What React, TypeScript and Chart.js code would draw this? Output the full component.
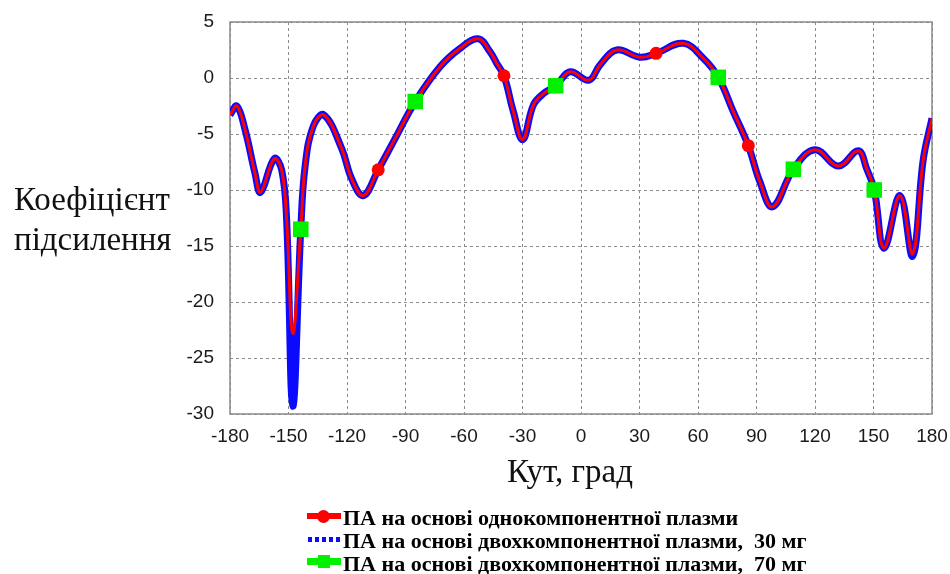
import React, { useEffect, useRef } from "react";
import { Chart, registerables } from "chart.js";

Chart.register(...registerables);

// Angle (degrees) sampled along the pattern
const angles = [
  -180, -176.5, -172.3, -167.2, -164.3, -157.3, -153.5, -151, -147.8, -143.7,
  -141.5, -137.3, -131.8, -122.7, -117.6, -111.6, -104, -95, -85, -72.3,
  -62, -52.7, -46.7, -43.2, -39.5, -34.7, -29.9, -24.4, -19.3, -13,
  -5.6, 4, 9.7, 18.3, 30.3, 38.5, 52.5, 62.7, 70.4, 78.1,
  85.8, 91.8, 98.3, 108.9, 120, 132, 142.2, 146.5, 150.4, 155.4,
  163.6, 170.1, 175.5, 180,
];

// ПА на основі однокомпонентної плазми
const singleComponent = [
  -3.3, -2.5, -4.6, -8.5, -10.2, -7.2, -8.2, -12.5, -22.8, -13.5,
  -7.9, -4.3, -3.3, -6.3, -9.0, -10.5, -8.2, -5.3, -2.1, 1.0,
  2.65, 3.5, 2.35, 1.3, 0.2, -3.0, -5.5, -2.4, -1.4, -0.7,
  0.56, -0.2, 1.16, 2.5, 1.85, 2.2, 3.1, 1.76, 0.06, -3.0,
  -6.04, -9.3, -11.5, -8.15, -6.4, -7.86, -6.5, -8.1, -10, -15.2,
  -10.5, -15.7, -7.3, -3.6,
];

// ПА на основі двохкомпонентної плазми, 30 мг
const twoComponent30 = [
  -3.3, -2.5, -4.6, -8.5, -10.2, -7.2, -8.2, -12.5, -29.3, -13.5,
  -7.9, -4.3, -3.3, -6.3, -9.0, -10.5, -8.2, -5.3, -2.1, 1.0,
  2.65, 3.5, 2.35, 1.3, 0.2, -3.0, -5.5, -2.4, -1.4, -0.7,
  0.56, -0.2, 1.16, 2.5, 1.85, 2.2, 3.1, 1.76, 0.06, -3.0,
  -6.04, -9.3, -11.5, -8.15, -6.4, -7.86, -6.5, -8.1, -10, -15.2,
  -10.5, -15.9, -7.3, -3.6,
];

// Marker positions
const singleMarkerAngles = [-104, -39.5, 38.5, 85.8];
const singleMarkerValues = [-8.2, 0.2, 2.2, -6.04];
const twoComponent70MarkerAngles = [-143.7, -85, -13, 70.4, 108.9, 150.4];
const twoComponent70MarkerValues = [-13.5, -2.1, -0.7, 0.06, -8.15, -10];

const xTicks = [-180, -150, -120, -90, -60, -30, 0, 30, 60, 90, 120, 150, 180];
const yMin = -30;
const yMax = 5;

const legendLabels = [
  "ПА на основі однокомпонентної плазми",
  "ПА на основі двохкомпонентної плазми,  30 мг",
  "ПА на основі двохкомпонентної плазми,  70 мг",
];

const toPts = (xs: number[], ys: number[]) => xs.map((x, i) => ({ x, y: ys[i] }));

const framePlugin = {
  id: "frame",
  beforeDatasetsDraw(chart: any) {
    const { ctx, chartArea } = chart;
    ctx.save();
    ctx.strokeStyle = "#8a8a8a";
    ctx.lineWidth = 1.5;
    ctx.setLineDash([]);
    ctx.strokeRect(chartArea.left, chartArea.top, chartArea.right - chartArea.left, chartArea.bottom - chartArea.top);
    ctx.restore();
  },
};

const zeroPad = (s: any) => {
  s.paddingLeft = 0;
  s.paddingRight = 0;
  s.paddingTop = 0;
  s.paddingBottom = 0;
};

export default function App() {
  const ref = useRef<HTMLCanvasElement | null>(null);

  useEffect(() => {
    if (!ref.current) return;
    const chart = new Chart(ref.current, {
      type: "line",
      data: {
        datasets: [
          {
            label: "70 мг markers",
            data: toPts(twoComponent70MarkerAngles, twoComponent70MarkerValues),
            showLine: false,
            pointStyle: "rect",
            pointRadius: 11,
            pointBackgroundColor: "#00f000",
            pointBorderColor: "#00f000",
            pointBorderWidth: 0,
          },
          {
            label: "single markers",
            data: toPts(singleMarkerAngles, singleMarkerValues),
            showLine: false,
            pointStyle: "circle",
            pointRadius: 6.5,
            pointBackgroundColor: "#ff0000",
            pointBorderColor: "#ff0000",
            pointBorderWidth: 0,
          },
          {
            label: legendLabels[0],
            data: toPts(angles, singleComponent),
            borderColor: "#ff0000",
            borderWidth: 3,
            pointRadius: 0,
            tension: 0.4,
            fill: false,
          },
          {
            label: legendLabels[1],
            data: toPts(angles, twoComponent30),
            borderColor: "#0a0aff",
            borderWidth: 7,
            pointRadius: 0,
            tension: 0.4,
            fill: false,
          },
        ],
      },
      options: {
        animation: false,
        responsive: false,
        devicePixelRatio: 1,
        layout: { padding: { left: 0, right: 18, top: 22, bottom: 0 } },
        plugins: { legend: { display: false }, tooltip: { enabled: false } },
        scales: {
          x: {
            type: "linear",
            min: -180,
            max: 180,
            afterFit: (s: any) => {
              s.height = 160;
              zeroPad(s);
            },
            afterBuildTicks: (s: any) => {
              s.ticks = xTicks.map((v) => ({ value: v }));
            },
            ticks: {
              font: { family: "'Liberation Sans', Arial, sans-serif", size: 19 },
              color: "#1a1a1a",
              padding: 11,
              maxRotation: 0,
            },
            grid: { color: "#8c8c8c", lineWidth: 1, drawTicks: false },
            border: { display: false, dash: [3, 3] },
          },
          y: {
            type: "linear",
            min: yMin,
            max: yMax,
            afterFit: (s: any) => {
              s.width = 230;
              zeroPad(s);
            },
            ticks: {
              stepSize: 5,
              font: { family: "'Liberation Sans', Arial, sans-serif", size: 19 },
              color: "#1a1a1a",
              padding: 16,
            },
            grid: { color: "#8c8c8c", lineWidth: 1, drawTicks: false },
            border: { display: false, dash: [3, 3] },
          },
        },
      },
      plugins: [framePlugin],
    });
    return () => chart.destroy();
  }, []);

  const serif = "'Liberation Serif', 'Times New Roman', serif";
  const legendTops = [506, 529, 552];

  return (
    <div style={{ position: "absolute", left: 0, top: 0, width: 950, height: 574, background: "#fff", overflow: "hidden" }}>
      <canvas ref={ref} width={950} height={574} style={{ position: "absolute", left: 0, top: 0 }} />
      <div
        style={{
          position: "absolute",
          left: 14,
          top: 179,
          fontFamily: serif,
          fontSize: 33,
          lineHeight: "40px",
          color: "#111",
          whiteSpace: "nowrap",
        }}
      >
        Коефіцієнт
        <br />
        підсилення
      </div>
      <div
        style={{
          position: "absolute",
          left: 450,
          width: 240,
          top: 451,
          textAlign: "center",
          fontFamily: serif,
          fontSize: 33,
          lineHeight: "40px",
          color: "#111",
          whiteSpace: "nowrap",
        }}
      >
        Кут, град
      </div>
      {/* Legend */}
      <div style={{ position: "absolute", left: 307, top: 513, width: 34, height: 6, background: "#ff0000" }} />
      <div style={{ position: "absolute", left: 317, top: 510, width: 13, height: 13, borderRadius: "50%", background: "#ff0000" }} />
      {[308, 315, 322, 329, 336].map((x) => (
        <div key={x} style={{ position: "absolute", left: x, top: 537, width: 4, height: 5, background: "#0a0aff" }} />
      ))}
      <div style={{ position: "absolute", left: 307, top: 558, width: 34, height: 7, background: "#00f000" }} />
      <div style={{ position: "absolute", left: 318, top: 555, width: 12, height: 13, background: "#00f000" }} />
      {legendLabels.map((t, i) => (
        <div
          key={i}
          style={{
            position: "absolute",
            left: 343,
            top: legendTops[i],
            fontFamily: serif,
            fontWeight: "bold",
            fontSize: 22,
            lineHeight: "23px",
            color: "#000",
            whiteSpace: "pre",
          }}
        >
          {t}
        </div>
      ))}
    </div>
  );
}
